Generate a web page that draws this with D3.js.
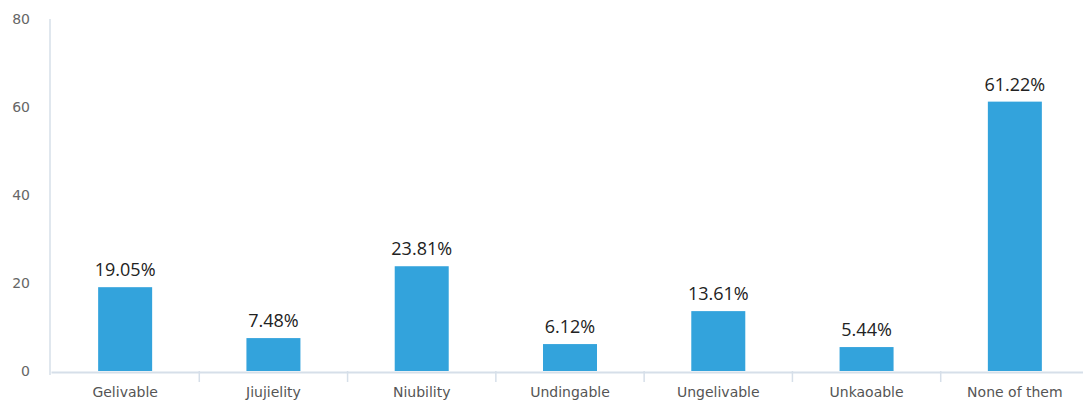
<!DOCTYPE html>
<html>
<head>
<meta charset="utf-8">
<script src="https://d3js.org/d3.v7.min.js"></script>
<style>
  body { margin: 0; background: #fff; }
</style>
</head>
<body>
<svg id="drawing_region"></svg>
<script>
const categories = ["Gelivable", "Jiujielity", "Niubility", "Undingable", "Ungelivable", "Unkaoable", "None of them"];
const values = [19.05, 7.48, 23.81, 6.12, 13.61, 5.44, 61.22];
const yTicks = [0, 20, 40, 60, 80];

const width = 1083, height = 401;
const svg = d3.select('#drawing_region')
  .attr('width', width)
  .attr('height', height);

// scales
const xscale = d3.scaleBand().domain(categories).range([51, 1089]).paddingInner(0.365).paddingOuter(0.18);
const yscale = d3.scaleLinear().domain([0, 80]).range([371, 19]);

// y axis line
svg.append('line')
  .attr('x1', 50).attr('x2', 50)
  .attr('y1', yscale(80)).attr('y2', yscale(0) + 4)
  .attr('stroke', '#d6dfe9').attr('stroke-width', 1.5);

// y tick labels
svg.selectAll('.ytick')
  .data(yTicks)
  .join('text')
  .attr('class', 'ytick')
  .attr('x', 30)
  .attr('y', d => yscale(d) + 5)
  .attr('text-anchor', 'end')
  .attr('font-family', 'DejaVu Sans')
  .attr('font-size', 14)
  .attr('fill', '#666')
  .text(d => d);

// x axis
const band = d3.scaleBand().domain(categories).range([51, 1089]);
const xaxis = d3.axisBottom(band).tickSize(0).tickSizeOuter(0);
const xg = svg.append('g')
  .attr('transform', `translate(0, ${yscale(0) + 1})`)
  .call(xaxis);
xg.select('.domain').attr('stroke', '#d6dfe9').attr('stroke-width', 2);
xg.selectAll('.tick text')
  .attr('dy', 0)
  .attr('y', 25)
  .attr('font-family', 'DejaVu Sans')
  .attr('font-size', 14)
  .attr('fill', '#555');

// tick marks between categories
svg.selectAll('.sep')
  .data(categories.slice(1))
  .join('line')
  .attr('class', 'sep')
  .attr('x1', d => band(d)).attr('x2', d => band(d))
  .attr('y1', yscale(0)).attr('y2', yscale(0) + 11)
  .attr('stroke', '#d6dfe9').attr('stroke-width', 1.5);

// bars
const bw = 54;
svg.selectAll('rect.bar')
  .data(values)
  .join('rect')
  .attr('class', 'bar')
  .attr('x', (d, i) => band(categories[i]) + band.bandwidth() / 2 - bw / 2)
  .attr('y', d => yscale(d))
  .attr('width', bw)
  .attr('height', d => yscale(0) - yscale(d))
  .attr('fill', '#33a3dc');

// value labels
svg.selectAll('text.val')
  .data(values)
  .join('text')
  .attr('class', 'val')
  .attr('x', (d, i) => band(categories[i]) + band.bandwidth() / 2)
  .attr('y', d => yscale(d) - 11)
  .attr('text-anchor', 'middle')
  .attr('font-family', 'Open Sans')
  .attr('font-size', 18)
  .attr('fill', '#222')
  .text(d => d.toFixed(2) + '%');
</script>
</body>
</html>
